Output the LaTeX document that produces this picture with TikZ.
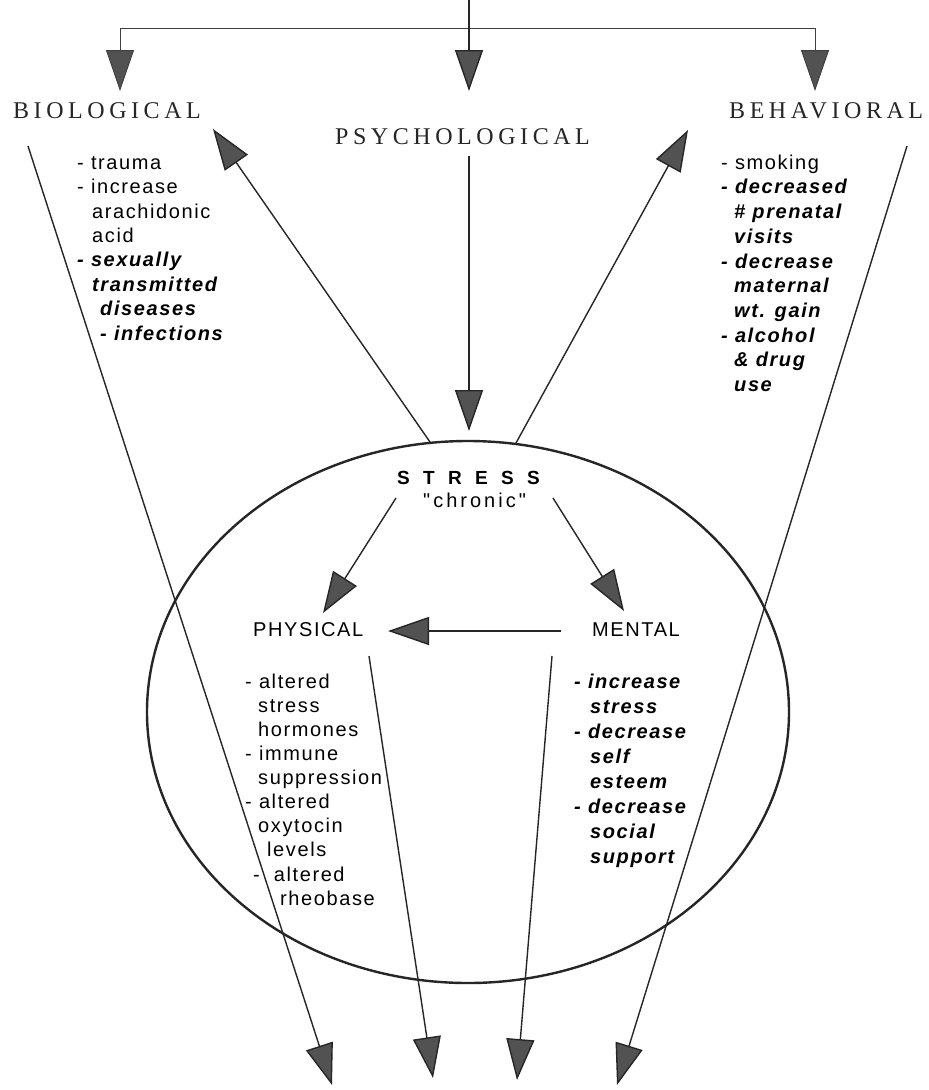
\documentclass[tikz,border=0pt]{standalone}
\usepackage{fontspec}
\setmainfont{Liberation Serif}
\setsansfont{Liberation Sans}
\newfontfamily\labfont[LetterSpace=19]{Liberation Serif}
\newfontfamily\lstfont[LetterSpace=8]{Liberation Sans}
\newfontfamily\strfont[LetterSpace=70]{Liberation Sans}
\newfontfamily\chrfont[LetterSpace=15]{Liberation Sans}
\usetikzlibrary{arrows.meta,shapes.geometric}
\newcommand\bi[1]{{\bfseries\itshape #1}}
\newcommand\fl{\rule{0pt}{16pt}}
\newcommand\ind[1]{\hspace*{#1pt}}
\begin{document}
\begin{tikzpicture}[x=1pt,y=-1pt,
  conn/.style={draw=black!85, line width=1.4pt},
  thinconn/.style={draw=black!75, line width=1pt},
  headtip/.style={-{Triangle[length=41pt,width=28pt,fill=black!68]}},
  lab/.style={inner sep=0pt, anchor=base west, font=\labfont\fontsize{24}{28}\selectfont, text=black!85},
  lst/.style={inner sep=0pt, anchor=north west, align=left, font=\lstfont\fontsize{20}{24.4}\selectfont},
  sub/.style={inner sep=0pt, anchor=base west, font=\lstfont\fontsize{20}{24}\selectfont}
]
\path[fill=white, use as bounding box] (0,0) rectangle (929,1090);

% labels
\node[lab] (bio) at (13,118) {BIOLOGICAL};
\node[lab] (psy) at (335,144) {PSYCHOLOGICAL};
\node[lab] (beh) at (729,118) {BEHAVIORAL};

% ellipse
\node[draw=black!85, line width=2.4pt, ellipse, minimum width=642pt, minimum height=542pt, inner sep=0pt] (ell) at (468,712) {};

\node[inner sep=0pt, anchor=base west, font=\strfont\bfseries\fontsize{19}{24}\selectfont] (stress) at (397,484) {STRESS};
\node[inner sep=0pt, anchor=base west, font=\chrfont\fontsize{20}{24}\selectfont] (chronic) at (423,507) {"chronic"};

\node[sub] (phys) at (253,636) {PHYSICAL};
\node[sub] (ment) at (592,636) {MENTAL};

% lists
\node[lst] (biolist) at (77,153) {\fl- trauma\\
- increase\\
\ind{15}arachidonic\\
\ind{15}acid\\
\bi{- sexually}\\
\ind{15}\bi{transmitted}\\
\ind{23}\bi{diseases}\\
\ind{23}\bi{- infections}};

\node[lst, font=\lstfont\fontsize{20}{24.7}\selectfont] (behlist) at (721,153) {\fl- smoking\\
\bi{- decreased}\\
\ind{13}\bi{\# prenatal}\\
\ind{13}\bi{visits}\\
\bi{- decrease}\\
\ind{13}\bi{maternal}\\
\ind{13}\bi{wt. gain}\\
\bi{- alcohol}\\
\ind{13}\bi{\& drug}\\
\ind{13}\bi{use}};

\node[lst, font=\lstfont\fontsize{20}{24.1}\selectfont] (phylist) at (245,672) {\fl- altered\\
\ind{13}stress\\
\ind{13}hormones\\
- immune\\
\ind{13}suppression\\
- altered\\
\ind{13}oxytocin\\
\ind{22}levels\\
\ind{8}-\hspace{14pt}altered\\
\ind{35}rheobase};

\node[lst, font=\lstfont\fontsize{20}{25}\selectfont] (menlist) at (574,672) {\fl\bi{- increase}\\
\ind{16}\bi{stress}\\
\bi{- decrease}\\
\ind{16}\bi{self}\\
\ind{16}\bi{esteem}\\
\bi{- decrease}\\
\ind{16}\bi{social}\\
\ind{16}\bi{support}};

% top distribution
\coordinate (top) at (469,0);
\coordinate (hl) at (120,28);
\coordinate (hr) at (815,28);
\coordinate (tipB) at (120,91);
\coordinate (tipP) at (469,91);
\coordinate (tipH) at (815,91);
\draw[thinconn] (hl) -- (hr);
\draw[thinconn, headtip] (hl) -- (tipB);
\draw[conn, headtip] (top) -- (tipP);
\draw[thinconn, headtip] (hr) -- (tipH);

% psychological -> stress
\coordinate (psyS) at (469,156);
\coordinate (psyT) at (469,431);
\draw[conn, headtip] (psyS) -- (psyT);

% stress -> biological / behavioral
\coordinate (eL) at (430,442);
\coordinate (bioT) at (213,129);
\coordinate (eR) at (516,443);
\coordinate (behT) at (688,130);
\draw[conn, headtip] (eL) -- (bioT);
\draw[conn, headtip] (eR) -- (behT);

% stress -> physical / mental
\coordinate (sL) at (396,498);
\coordinate (phyT) at (323,613);
\coordinate (sR) at (553,498);
\coordinate (menT) at (624,611);
\draw[conn, headtip] (sL) -- (phyT);
\draw[conn, headtip] (sR) -- (menT);

% mental -> physical
\coordinate (mS) at (561,631);
\coordinate (pT) at (388,631);
\draw[conn, headtip] (mS) -- (pT);

% outcome arrows
\coordinate (b1) at (28,146);
\coordinate (o1) at (332,1085);
\coordinate (b2) at (369,656);
\coordinate (o2) at (433,1078);
\coordinate (b3) at (552,656);
\coordinate (o3) at (517,1080);
\coordinate (b4) at (907,146);
\coordinate (o4) at (617,1085);
\draw[conn, headtip] (b1) -- (o1);
\draw[conn, headtip] (b2) -- (o2);
\draw[conn, headtip] (b3) -- (o3);
\draw[conn, headtip] (b4) -- (o4);
\end{tikzpicture}
\end{document}
